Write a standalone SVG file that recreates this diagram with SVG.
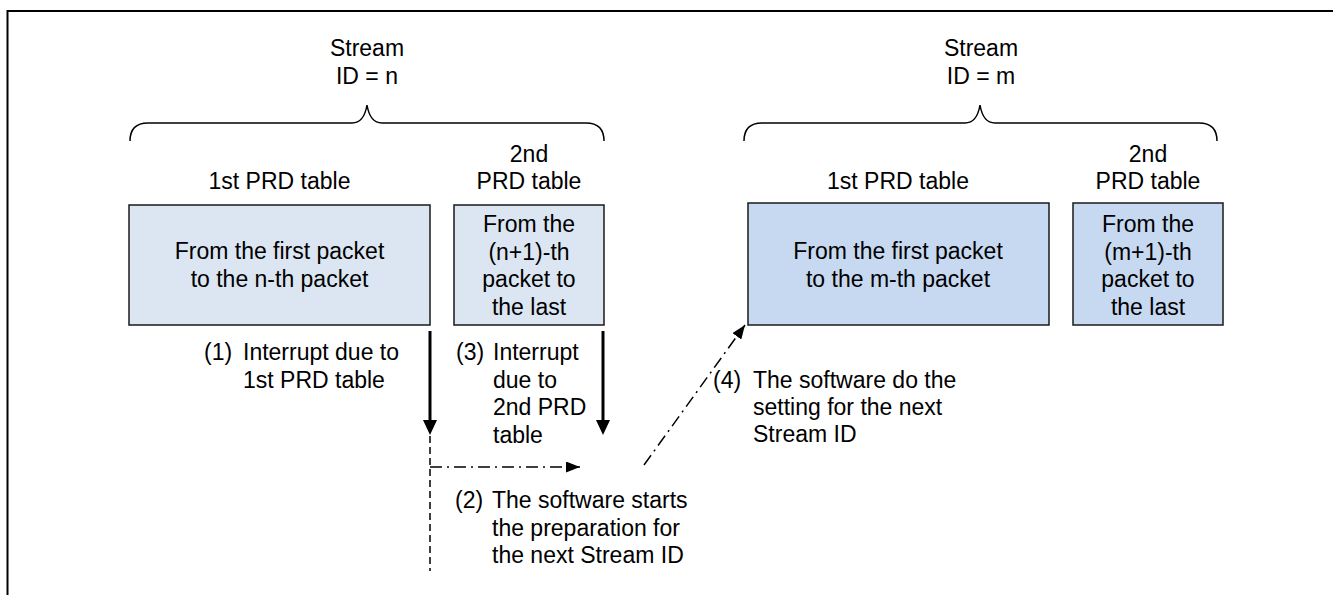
<svg xmlns="http://www.w3.org/2000/svg" width="1333" height="595" viewBox="0 0 1333 595">
<style>
text{font-family:"Liberation Sans",Arial,sans-serif;font-size:23px;fill:#000}
.c{text-anchor:middle}
.boxn{fill:#dce6f2;stroke:#1a1a1a;stroke-width:1.5}
.boxm{fill:#c6d9f1;stroke:#1a1a1a;stroke-width:1.5}
.brace{fill:none;stroke:#000;stroke-width:1.5}
.thick{stroke:#000;stroke-width:3;fill:none}
.dd{stroke:#000;stroke-width:1.5;fill:none;stroke-dasharray:12 5 2 5}
.dash{stroke:#000;stroke-width:1.5;fill:none;stroke-dasharray:7 4}
</style>
<defs>
<marker id="headThick" viewBox="0 0 15 14" refX="5" refY="7" markerWidth="15" markerHeight="14" markerUnits="userSpaceOnUse" orient="auto"><path d="M0,0 L15,7 L0,14 z" fill="#000"/></marker>
<marker id="headThin" viewBox="0 0 14 11" refX="14" refY="5.5" markerWidth="14" markerHeight="11" markerUnits="userSpaceOnUse" orient="auto"><path d="M0,0 L14,5.5 L0,11 z" fill="#000"/></marker>
</defs>
<rect width="1333" height="595" fill="#fff"/>
<path d="M7.5,595 L7.5,11 L1333,11" fill="none" stroke="#000" stroke-width="2"/>

<g id="streamN">
<text class="c" x="367" y="56">Stream</text>
<text class="c" x="367" y="83.5">ID = n</text>
<path class="brace" d="M130,141 Q130,123 148,123 L352,123 Q364,123 367,105 Q370,123 382,123 L586,123 Q604,123 604,141"/>
</g>
<g id="streamM">
<text class="c" x="981" y="56">Stream</text>
<text class="c" x="981" y="83.5">ID = m</text>
<path class="brace" d="M744,141 Q744,123 762,123 L965,123 Q977,123 980,105 Q983,123 995,123 L1199,123 Q1217,123 1217,141"/>
</g>

<g id="n1">
<text class="c" x="279.5" y="189">1st PRD table</text>
<rect class="boxn" x="129" y="205" width="301" height="120"/>
<text class="c" x="279.5" y="259">From the first packet</text>
<text class="c" x="279.5" y="287">to the n-th packet</text>
</g>
<g id="n2">
<text class="c" x="529" y="162">2nd</text>
<text class="c" x="529" y="189">PRD table</text>
<rect class="boxn" x="454" y="205" width="150" height="120"/>
<text class="c" x="529" y="232">From the</text>
<text class="c" x="529" y="259.5">(n+1)-th</text>
<text class="c" x="529" y="287">packet to</text>
<text class="c" x="529" y="314.5">the last</text>
</g>
<g id="m1">
<text class="c" x="898" y="189">1st PRD table</text>
<rect class="boxm" x="748" y="203" width="301" height="122"/>
<text class="c" x="898" y="259">From the first packet</text>
<text class="c" x="898" y="287">to the m-th packet</text>
</g>
<g id="m2">
<text class="c" x="1148" y="162">2nd</text>
<text class="c" x="1148" y="189">PRD table</text>
<rect class="boxm" x="1073" y="203" width="150" height="122"/>
<text class="c" x="1148" y="232">From the</text>
<text class="c" x="1148" y="259.5">(m+1)-th</text>
<text class="c" x="1148" y="287">packet to</text>
<text class="c" x="1148" y="314.5">the last</text>
</g>

<g id="connectors">
<line class="thick" x1="430" y1="331" x2="430" y2="425" marker-end="url(#headThick)"/>
<line class="thick" x1="603" y1="331" x2="603" y2="425" marker-end="url(#headThick)"/>
<line class="dash" x1="430" y1="436" x2="430" y2="571"/>
<line class="dd" x1="430" y1="467" x2="580" y2="467" marker-end="url(#headThin)"/>
<line class="dd" x1="644" y1="465" x2="745" y2="325" marker-end="url(#headThin)"/>
</g>

<g id="label1">
<text x="204" y="360">(1)</text>
<text x="243" y="360">Interrupt due to</text>
<text x="243" y="387.5">1st PRD table</text>
</g>
<g id="label3">
<text x="456" y="360">(3)</text>
<text x="493" y="360">Interrupt</text>
<text x="493" y="387.5">due to</text>
<text x="493" y="415">2nd PRD</text>
<text x="493" y="442.5">table</text>
</g>
<g id="label2">
<text x="455" y="508">(2)</text>
<text x="492" y="508">The software starts</text>
<text x="492" y="535.5">the preparation for</text>
<text x="492" y="563">the next Stream ID</text>
</g>
<g id="label4">
<text x="713" y="388">(4)</text>
<text x="753" y="388">The software do the</text>
<text x="753" y="415">setting for the next</text>
<text x="753" y="442">Stream ID</text>
</g>
</svg>
